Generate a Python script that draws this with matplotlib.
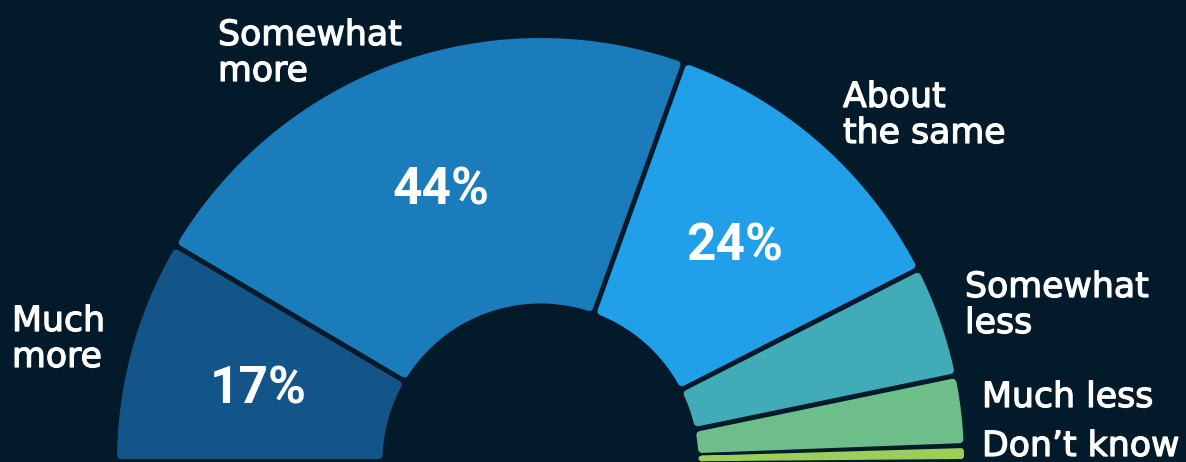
import numpy as np
import matplotlib.pyplot as plt
import matplotlib.patheffects as pe
from matplotlib.patches import Polygon

categories = ["Much\nmore", "Somewhat\nmore", "About\nthe same", "Somewhat\nless", "Much less", "Don’t know"]
values = [17, 44, 24, 8.5, 5.3, 1.2]
pct_labels = ["17%", "44%", "24%", "", "", ""]
colors = ["#135589", "#1b7cbc", "#229fe9", "#41abb8", "#6ebe8a", "#9ccf5a"]

# where the category names sit (left edge, first baseline), in pixels
name_pos = [(12, 331), (218, 45), (843, 107), (965, 297), (982, 407), (982, 456)]

bg = "#031a2b"
W, H = 1186, 462
cx, cy = 540.5, 461.5
r_out, r_in = 423.5, 158
gap = 5
corner = 4


def seg_points(a_hi, a_lo, rc):
    # shrink the wedge by half the gap plus the corner radius,
    # the round-joined stroke grows it back with rounded corners
    d = gap / 2 + rc

    def span(rho):
        off = np.degrees(np.arcsin(d / rho))
        lo, hi = a_lo + off, a_hi - off
        if lo > hi:
            lo = hi = (lo + hi) / 2
        return lo, hi

    ro, ri = r_out - rc, r_in + rc
    lo, hi = span(ro)
    t = np.radians(np.linspace(hi, lo, 120))
    outer = np.column_stack([cx + ro * np.cos(t), cy - ro * np.sin(t)])
    lo, hi = span(ri)
    t = np.radians(np.linspace(lo, hi, 60))
    inner = np.column_stack([cx + ri * np.cos(t), cy - ri * np.sin(t)])
    return np.vstack([outer, inner])


fig = plt.figure(figsize=(W / 100, H / 100), dpi=100)
fig.patch.set_facecolor(bg)
ax = fig.add_axes([0, 0, 1, 1])
ax.set_facecolor(bg)
ax.set_xlim(0, W)
ax.set_ylim(H, 0)
ax.axis("off")

total = sum(values)
edges = 180 - np.concatenate([[0], np.cumsum(values)]) / total * 180

for i, (v, c) in enumerate(zip(values, colors)):
    a_hi, a_lo = edges[i], edges[i + 1]
    thick = r_out * np.radians(a_hi - a_lo) - gap
    rc = min(corner, 0.25 * thick)
    pts = seg_points(a_hi, a_lo, rc)
    p = Polygon(pts, closed=True, facecolor=c, edgecolor=c,
                linewidth=2 * rc * 0.72, joinstyle="round")
    ax.add_patch(p)

    if pct_labels[i]:
        mid = np.radians((a_hi + a_lo) / 2)
        rr = 293
        ax.text(cx + rr * np.cos(mid), cy - rr * np.sin(mid) + 5, pct_labels[i],
                color="white", fontsize=37, fontfamily="Roboto", fontweight="bold",
                ha="center", va="center")

bold_ish = [pe.withStroke(linewidth=0.9, foreground="white")]
for name, (x, y) in zip(categories, name_pos):
    for k, line in enumerate(name.split("\n")):
        ax.text(x, y + 36 * k, line, color="white", fontsize=25,
                fontfamily="DejaVu Sans", ha="left", va="baseline",
                path_effects=bold_ish)

fig.savefig("out.png", dpi=100, facecolor=bg)
